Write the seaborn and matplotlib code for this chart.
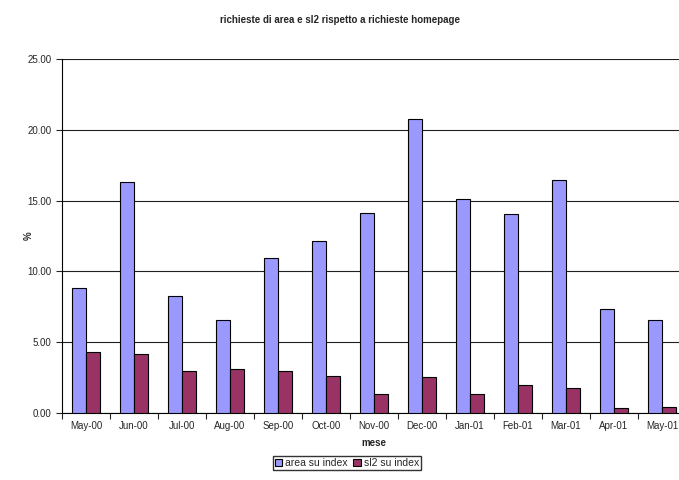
import numpy as np
import pandas as pd
import matplotlib
matplotlib.use("Agg")
import matplotlib.pyplot as plt
import seaborn as sns
from matplotlib.ticker import FormatStrFormatter, FixedLocator

mesi = ['May-00', 'Jun-00', 'Jul-00', 'Aug-00', 'Sep-00', 'Oct-00', 'Nov-00',
        'Dec-00', 'Jan-01', 'Feb-01', 'Mar-01', 'Apr-01', 'May-01']
area_su_index = [8.80, 16.33, 8.24, 6.57, 10.95, 12.17, 14.10,
                 20.75, 15.14, 14.05, 16.45, 7.32, 6.55]
sl2_su_index = [4.29, 4.17, 2.99, 3.08, 2.94, 2.61, 1.34,
                2.52, 1.32, 1.95, 1.79, 0.38, 0.42]

df = pd.DataFrame({'mese': mesi * 2,
                   'valore': area_su_index + sl2_su_index,
                   'serie': ['area su index'] * len(mesi) + ['sl2 su index'] * len(mesi)})

sns.set_style("white")
plt.rcParams['font.family'] = ['Liberation Sans', 'DejaVu Sans']

fig = plt.figure(figsize=(6.79, 4.8), dpi=100)
ax = fig.add_axes([62 / 679, 1 - 413 / 480, 624 / 679, (413 - 59) / 480])

sns.barplot(data=df, x='mese', y='valore', hue='serie',
            palette=['#9999FF', '#993366'], width=0.583, gap=0,
            edgecolor='black', linewidth=0.8, saturation=1, ax=ax, zorder=3)

ax.set_ylim(0, 25)
ax.set_xlim(-0.5, len(mesi) - 0.5)
ax.set_yticks(np.arange(0, 26, 5))
ax.yaxis.set_major_formatter(FormatStrFormatter('%.2f'))
ax.grid(axis='y', color='#202020', linewidth=0.8, zorder=0)
ax.grid(axis='x', visible=False)

# tick marks between categories, like the original
ax.xaxis.set_minor_locator(FixedLocator(np.arange(-0.5, len(mesi), 1)))
ax.tick_params(axis='x', which='major', length=0, labelsize=7, pad=6)
ax.tick_params(axis='x', which='minor', length=4, width=0.8, direction='out', bottom=True)
ax.tick_params(axis='y', which='major', length=4, width=0.8, direction='out', left=True, labelsize=7)

for s in ['top', 'right']:
    ax.spines[s].set_visible(False)
for s in ['left', 'bottom']:
    ax.spines[s].set_color('black')
    ax.spines[s].set_linewidth(0.8)

ax.set_xlabel('mese', fontsize=7, fontweight='bold', labelpad=5)
ax.set_ylabel('%', fontsize=7, fontweight='bold')
ax.yaxis.set_label_coords((34 - 62) / 624, 0.5)

fig.suptitle('richieste di area e sl2 rispetto a richieste homepage',
             fontsize=7, fontweight='bold', y=1 - 20 / 480, va='center')

handles, labels = ax.get_legend_handles_labels()
ax.legend(handles, labels, loc='center', bbox_to_anchor=(347 / 679, 1 - 463 / 480),
          bbox_transform=fig.transFigure, ncol=2, fontsize=7.5, frameon=True,
          fancybox=False, edgecolor='black', handlelength=0.7, handleheight=0.7,
          handletextpad=0.3, columnspacing=0.5, borderpad=0.2, borderaxespad=0)

fig.savefig('out.png', dpi=100)
